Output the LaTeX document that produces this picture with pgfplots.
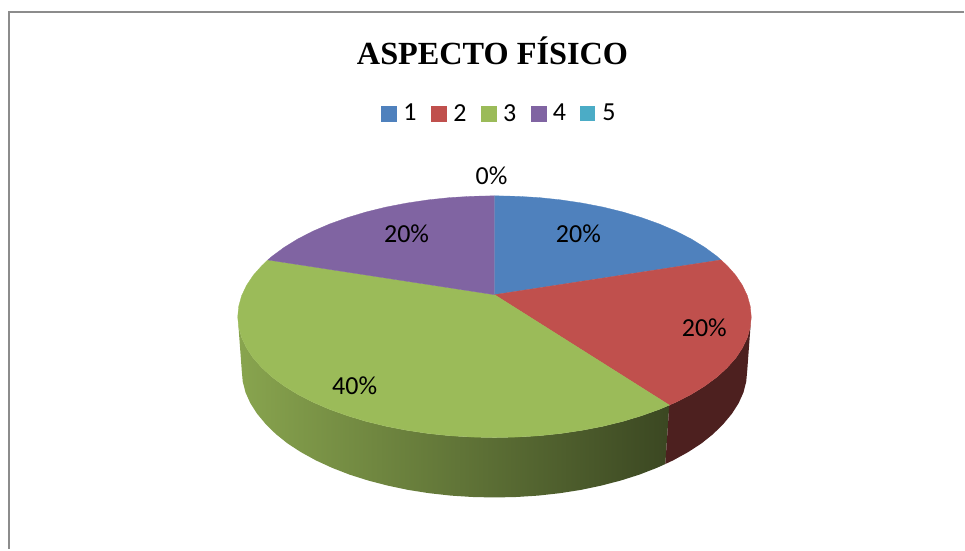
\documentclass[border=0pt]{standalone}
\usepackage{fontspec}
\setmainfont{Carlito}
\newfontfamily\titlefont{Liberation Serif}
\usepackage{pgfplots}
\pgfplotsset{compat=1.18}
\definecolor{pblue}{HTML}{4F81BD}
\definecolor{pred}{HTML}{C0504D}
\definecolor{pgreen}{HTML}{9BBB59}
\definecolor{ppurple}{HTML}{8064A2}
\definecolor{pteal}{HTML}{4BACC6}
\definecolor{frame}{HTML}{8C8C8C}
\begin{document}
\begin{tikzpicture}
\begin{axis}[
  width=965pt, height=550pt, scale only axis,
  xmin=0, xmax=965, ymin=0, ymax=550, y dir=reverse,
  hide axis, clip=false,
  legend columns=5,
  legend style={at={(axis cs:500,113.5)}, anchor=center, draw=none, fill=none,
    font=\fontsize{26}{28}\selectfont, inner sep=0pt, outer sep=0pt,
    /tikz/every even column/.append style={column sep=12.5pt}},
  legend image code/.code={\fill[#1] (0pt,-7.5pt) rectangle (15pt,7.5pt);\path[draw=none,fill=none] (0pt,0pt) -- (20pt,0pt);},
]
% page extent
\addplot[forget plot, draw=none] coordinates {(0,0)(965,550)};
% side faces (no legend)
\addplot[forget plot, draw=none, left color=pgreen!88!black, middle color=pgreen!62!black, right color=pgreen!38!black]
coordinates {(670,405.5)(660.2,409.7)(642.4,416.1)(623.5,421.8)(603.6,426.7)(582.9,430.7)(561.5,433.9)(539.6,436.2)(517.4,437.5)(495,438)(472.6,437.5)(450.4,436.2)(428.5,433.9)(407.1,430.7)(386.4,426.7)(366.5,421.8)(347.6,416.1)(329.8,409.7)(313.3,402.6)(298.1,394.8)(284.5,386.4)(272.4,377.5)(262.1,368.1)(253.5,358.4)(246.8,348.3)(241.9,338)(239,327.5)(238,317)
(242,371)(243,382)(245.8,392.9)(250.6,403.6)(257.3,414.1)(265.7,424.2)(275.9,434.3)(287.7,443.8)(301.2,452.6)(316.1,460.8)(332.4,468.3)(349.9,475.1)(368.5,481)(388.1,486.1)(408.5,490.4)(429.5,493.7)(451.1,496.1)(472.9,497.5)(495,498)(517.1,497.5)(538.9,496.1)(560.5,493.7)(581.5,490.4)(601.9,486.1)(621.5,481)(640.1,475.1)(657.6,468.3)(666,464.5)} --cycle;
\addplot[forget plot, draw=none, fill=pred!40!black]
coordinates {(752,317)(751,327.5)(748.1,338)(743.2,348.3)(736.5,358.4)(727.9,368.1)(717.6,377.5)(705.5,386.4)(691.9,394.8)(676.7,402.6)(670,405.5)(666,464.5)(673.9,460.8)(688.8,452.6)(702.3,443.8)(714.1,434.3)(724.3,424.2)(732.7,414.1)(739.4,403.6)(744.2,392.9)(747,382)(748,371)} --cycle;
% top faces
\addplot[draw=pblue, line width=0.3pt, fill=pblue]
coordinates {(495,295)(495,196)(517.4,196.5)(539.6,197.8)(561.5,200.1)(582.9,203.3)(603.6,207.3)(623.5,212.2)(642.4,217.9)(660.2,224.3)(676.7,231.4)(691.9,239.2)(705.5,247.6)(717.6,256.5)(721.7,260.2)} --cycle;
\addlegendentry{1}
\addplot[draw=pred, line width=0.3pt, fill=pred]
coordinates {(495,295)(721.7,260.2)(727.9,265.9)(736.5,275.6)(743.2,285.7)(748.1,296)(751,306.5)(752,317)(751,327.5)(748.1,338)(743.2,348.3)(736.5,358.4)(727.9,368.1)(717.6,377.5)(705.5,386.4)(691.9,394.8)(676.7,402.6)(670,405.5)} --cycle;
\addlegendentry{2}
\addplot[draw=pgreen, line width=0.3pt, fill=pgreen]
coordinates {(495,295)(670,405.5)(660.2,409.7)(642.4,416.1)(623.5,421.8)(603.6,426.7)(582.9,430.7)(561.5,433.9)(539.6,436.2)(517.4,437.5)(495,438)(472.6,437.5)(450.4,436.2)(428.5,433.9)(407.1,430.7)(386.4,426.7)(366.5,421.8)(347.6,416.1)(329.8,409.7)(313.3,402.6)(298.1,394.8)(284.5,386.4)(272.4,377.5)(262.1,368.1)(253.5,358.4)(246.8,348.3)(241.9,338)(239,327.5)(238,317)(239,306.5)(241.9,296)(246.8,285.7)(253.5,275.6)(262.1,265.9)(268.1,260.2)} --cycle;
\addlegendentry{3}
\addplot[draw=ppurple, line width=0.3pt, fill=ppurple]
coordinates {(495,295)(268.1,260.2)(272.4,256.5)(284.5,247.6)(298.1,239.2)(313.3,231.4)(329.8,224.3)(347.6,217.9)(366.5,212.2)(386.4,207.3)(407.1,203.3)(428.5,200.1)(450.4,197.8)(472.6,196.5)(495,196)} --cycle;
\addlegendentry{4}
% zero share
\addplot[draw=none, fill=pteal] coordinates {(495,295)(495,196)} --cycle;
\addlegendentry{5}
% frame
\addplot[forget plot, frame, line width=2pt] coordinates {(965,12)(9.5,12)(9.5,550)};
% labels
\node[font=\titlefont\bfseries\fontsize{32.3}{36}\selectfont] at (axis cs:493,51) {ASPECTO FÍSICO};
\node[font=\fontsize{26}{28}\selectfont] at (axis cs:492,176) {0\%};
\node[font=\fontsize{26}{28}\selectfont] at (axis cs:579,234) {20\%};
\node[font=\fontsize{26}{28}\selectfont] at (axis cs:705,328) {20\%};
\node[font=\fontsize{26}{28}\selectfont] at (axis cs:355,386) {40\%};
\node[font=\fontsize{26}{28}\selectfont] at (axis cs:407,234) {20\%};
\end{axis}
\end{tikzpicture}
\end{document}
